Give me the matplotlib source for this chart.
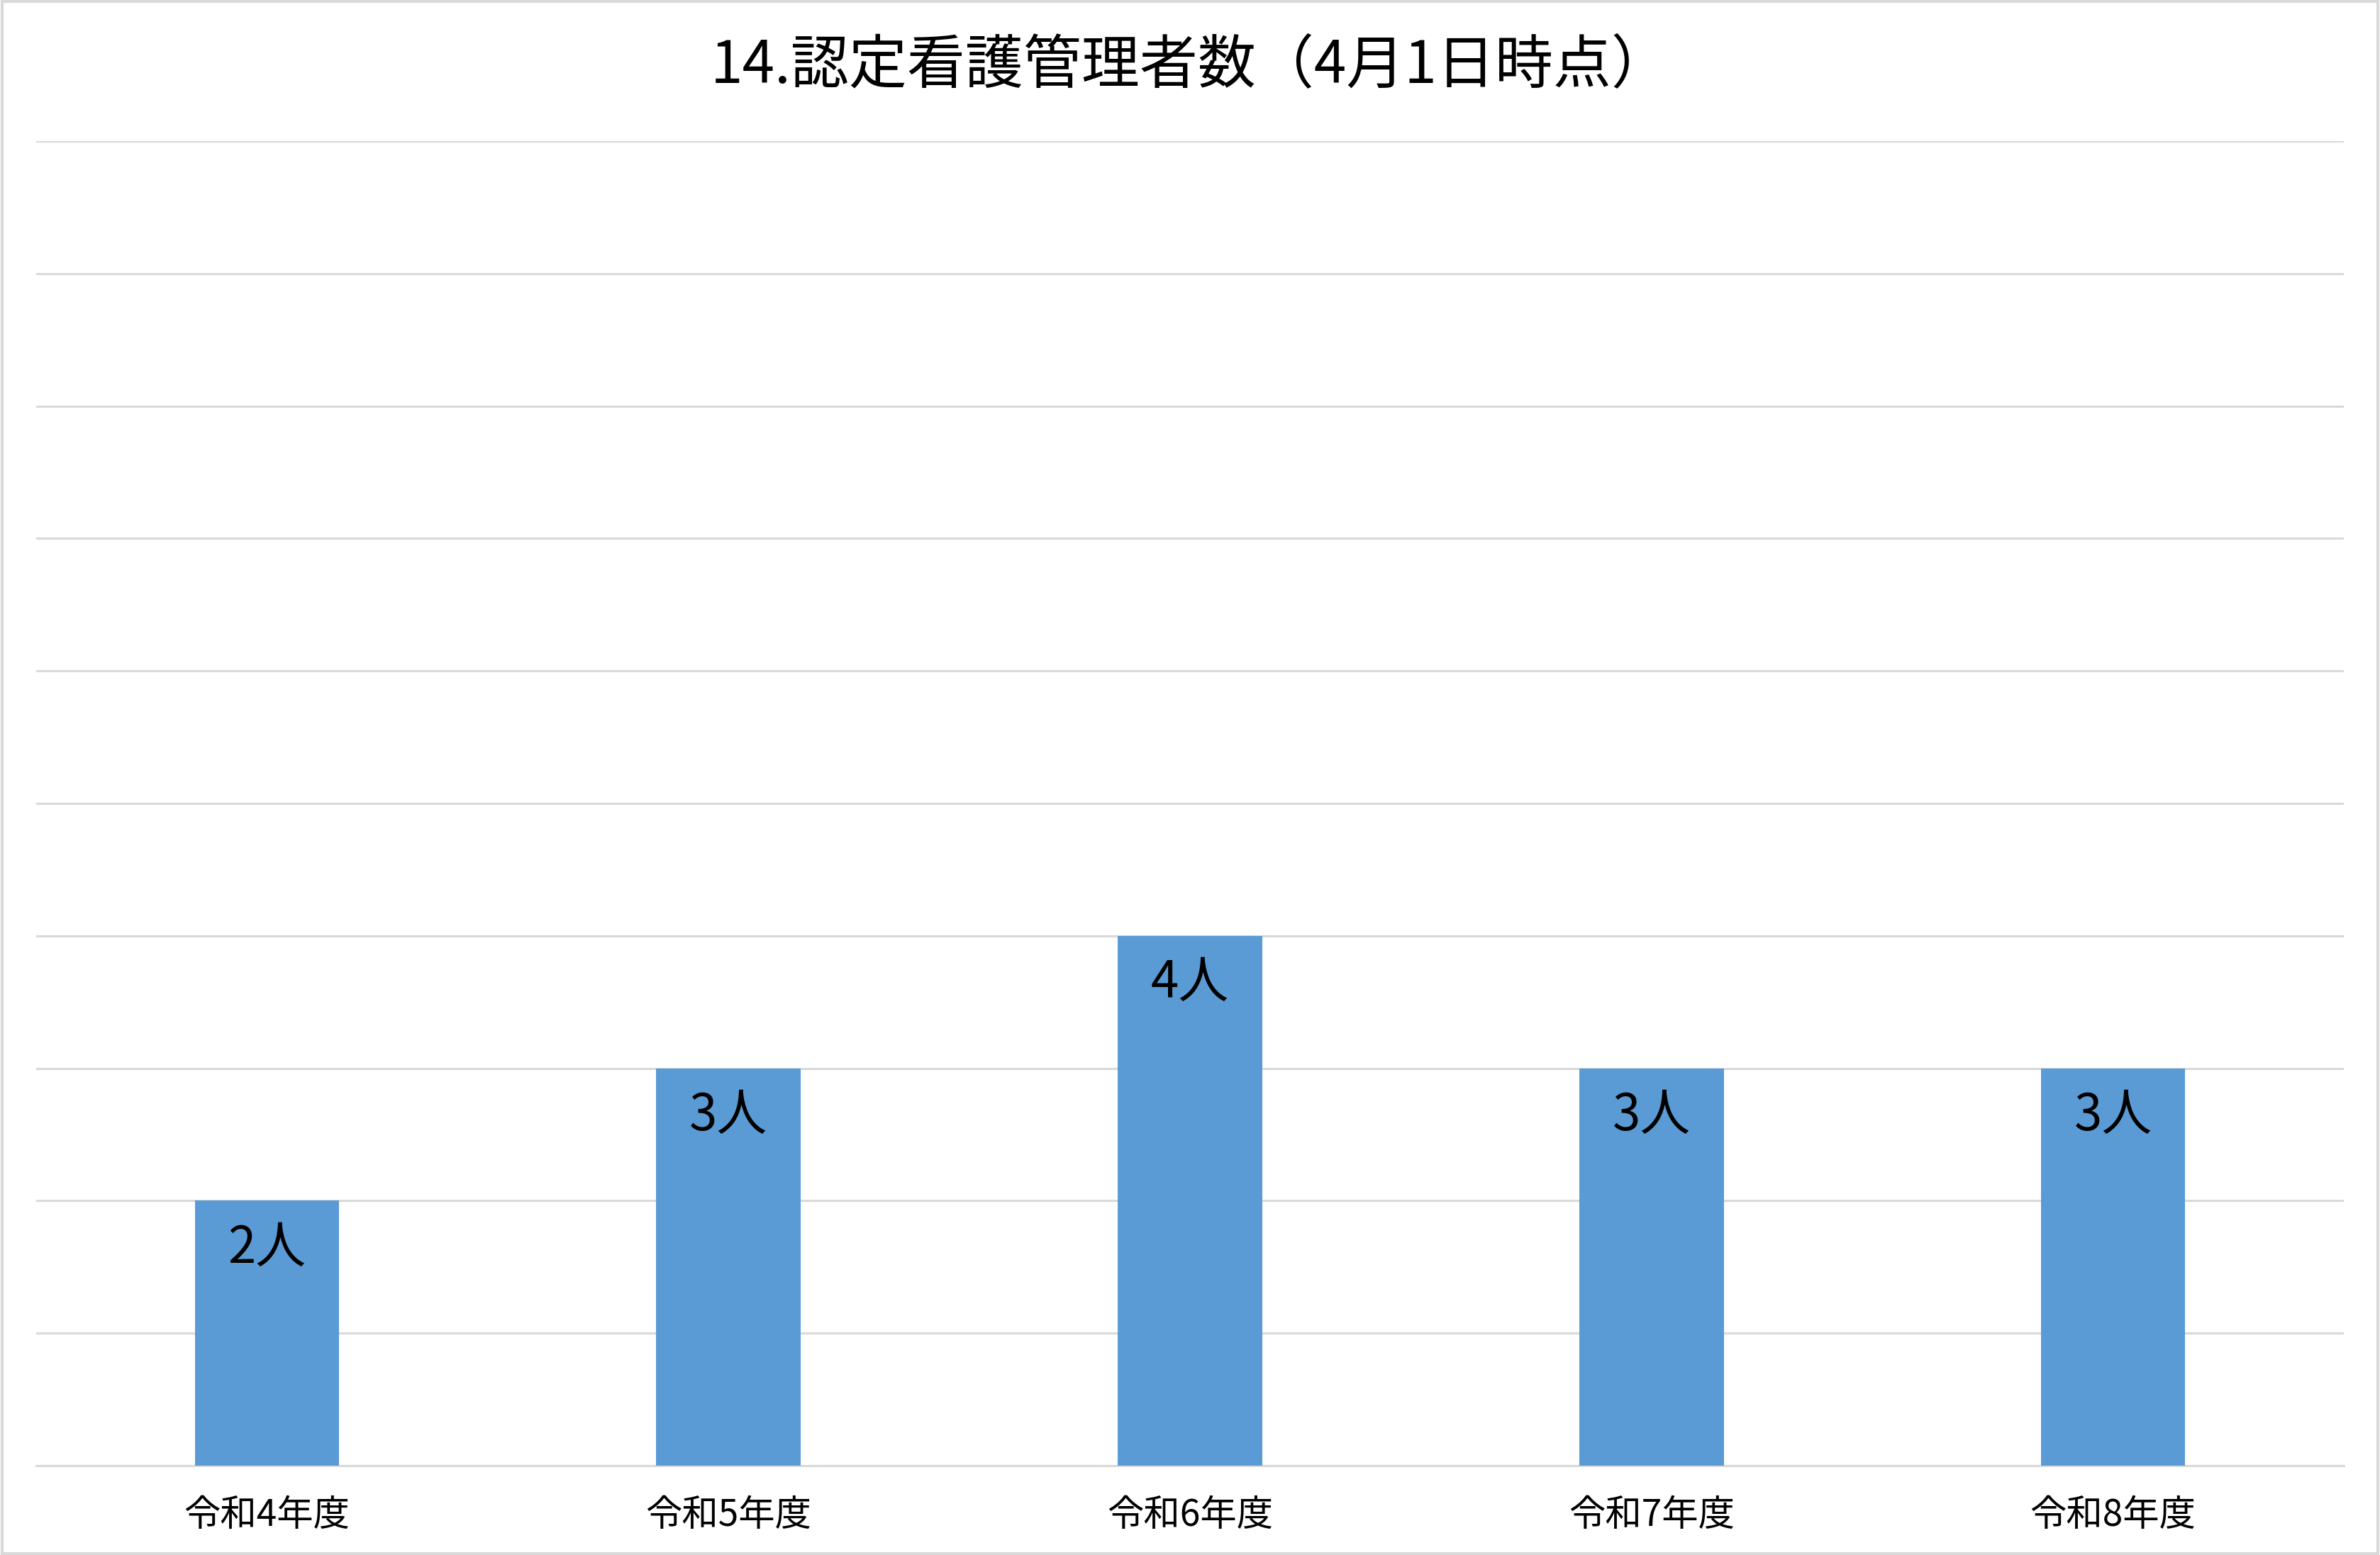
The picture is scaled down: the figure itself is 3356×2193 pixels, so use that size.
import matplotlib.pyplot as plt
from matplotlib.patches import Rectangle

plt.rcParams['font.family'] = ['Noto Sans CJK JP', 'DejaVu Sans']

# data
years = ['令和4年度', '令和5年度', '令和6年度', '令和7年度', '令和8年度']
counts = [2, 3, 4, 3, 3]
title = '14.認定看護管理者数（4月1日時点）'

W, H, DPI = 3356, 2193, 200
fig = plt.figure(figsize=(W / DPI, H / DPI), dpi=DPI)
ax = fig.add_axes([51 / W, 1 - 2067 / H, (3305 - 51) / W, (2067 - 199) / H])

x = range(len(years))
bars = ax.bar(x, counts, width=0.313, color='#5B9BD5', zorder=3)

for b, v in zip(bars, counts):
    ax.annotate(f'{v}人', (b.get_x() + b.get_width() / 2, v),
                xytext=(0, -24), textcoords='offset points',
                ha='center', va='center', fontsize=25.5, color='black', zorder=4)

ax.set_xlim(-0.5, len(years) - 0.5)
ax.set_ylim(0, 10)
ax.set_yticks(range(0, 11))
ax.yaxis.grid(True, color='#D9D9D9', linewidth=1.1, zorder=0)
ax.tick_params(axis='y', left=False, labelleft=False)
ax.tick_params(axis='x', bottom=False, labelsize=18.5, pad=12)
ax.set_xticks(list(x))
ax.set_xticklabels(years)
for s in ['top', 'left', 'right']:
    ax.spines[s].set_visible(False)
ax.spines['bottom'].set_color('#D9D9D9')
ax.spines['bottom'].set_linewidth(1.1)

fig.text(0.5, 1 - 94 / H, title, ha='center', va='center', fontsize=29.5)

# outer chart border
fig.patches.append(Rectangle((0.001, 0.001), 0.998, 0.998, transform=fig.transFigure,
                             fill=False, edgecolor='#D9D9D9', linewidth=1.5))

fig.savefig('out.png', dpi=DPI)
plt.close(fig)
